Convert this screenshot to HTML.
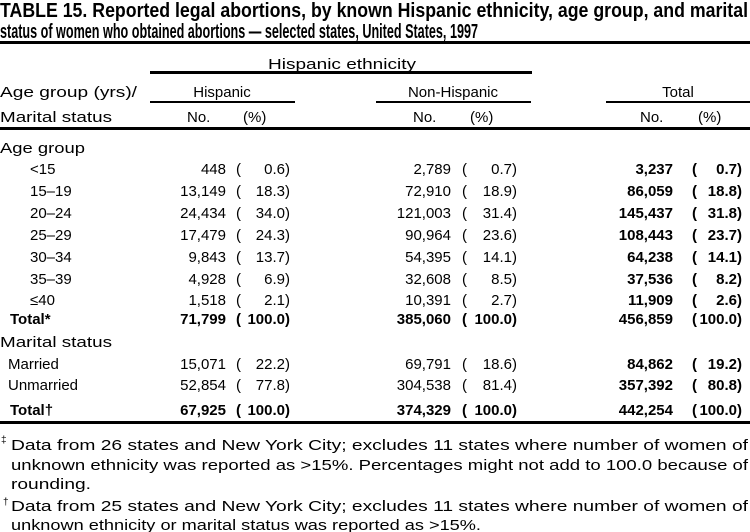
<!DOCTYPE html>
<html><head><meta charset="utf-8"><style>
html,body{margin:0;padding:0;background:#fff;}
svg{display:block;}
text{font-family:"Liberation Sans",sans-serif;fill:#000;}
.t{font-size:20px;font-weight:bold;}
.r{font-size:15px;}
.b{font-weight:bold;}
.e{text-anchor:end;}
.m{text-anchor:middle;}
</style></head><body>
<svg width="750" height="532" viewBox="0 0 750 532">
<text class="t" x="0" y="17" textLength="748" lengthAdjust="spacingAndGlyphs">TABLE 15. Reported legal abortions, by known Hispanic ethnicity, age group, and marital</text>
<text class="t" x="0" y="38" textLength="478" lengthAdjust="spacingAndGlyphs">status of women who obtained abortions — selected states, United States, 1997</text>
<rect x="0" y="41" width="750" height="3"/>
<text class="r m" x="342" y="69" textLength="148" lengthAdjust="spacingAndGlyphs">Hispanic  ethnicity</text>
<rect x="150" y="71" width="382" height="3"/>
<text class="r" x="0" y="97" textLength="137" lengthAdjust="spacingAndGlyphs">Age group (yrs)/</text>
<text class="r m" x="222" y="97">Hispanic</text>
<text class="r m" x="453" y="97">Non-Hispanic</text>
<text class="r m" x="678" y="97">Total</text>
<rect x="150" y="101" width="145" height="2"/>
<rect x="376" y="101" width="155" height="2"/>
<rect x="606" y="101" width="144" height="2"/>
<text class="r" x="0" y="122" textLength="112" lengthAdjust="spacingAndGlyphs">Marital status</text>
<text class="r" x="187" y="122">No.</text><text class="r" x="243" y="122">(%)</text>
<text class="r" x="413" y="122">No.</text><text class="r" x="470" y="122">(%)</text>
<text class="r" x="640" y="122">No.</text><text class="r" x="698" y="122">(%)</text>
<rect x="0" y="127" width="750" height="3"/>
<text class="r" x="0" y="153" textLength="85" lengthAdjust="spacingAndGlyphs">Age group</text>
<g id="rows"></g>
<text class="r" x="0" y="347" textLength="112" lengthAdjust="spacingAndGlyphs">Marital status</text>
<rect x="0" y="421" width="750" height="3"/>
<text style="font-size:10px" x="1" y="443">‡</text>
<text class="r" x="11" y="450" textLength="737" lengthAdjust="spacingAndGlyphs">Data from 26 states and New York City; excludes 11 states where number of women of</text>
<text class="r" x="11" y="470" textLength="737" lengthAdjust="spacingAndGlyphs">unknown ethnicity was reported as &gt;15%. Percentages might not add to 100.0 because of</text>
<text class="r" x="11" y="489" textLength="80" lengthAdjust="spacingAndGlyphs">rounding.</text>
<text style="font-size:10px" x="3" y="505">†</text>
<text class="r" x="11" y="511" textLength="737" lengthAdjust="spacingAndGlyphs">Data from 25 states and New York City; excludes 11 states where number of women of</text>
<text class="r" x="11" y="530" textLength="470" lengthAdjust="spacingAndGlyphs">unknown ethnicity or marital status was reported as &gt;15%.</text>
</svg>
<script>
var rows=[
["<15",174,"448","0.6","2,789","0.7","3,237","0.7",0],
["15–19",196,"13,149","18.3","72,910","18.9","86,059","18.8",0],
["20–24",218,"24,434","34.0","121,003","31.4","145,437","31.8",0],
["25–29",240,"17,479","24.3","90,964","23.6","108,443","23.7",0],
["30–34",262,"9,843","13.7","54,395","14.1","64,238","14.1",0],
["35–39",284,"4,928","6.9","32,608","8.5","37,536","8.2",0],
["≤40",305,"1,518","2.1","10,391","2.7","11,909","2.6",0],
["Total*",324,"71,799","100.0","385,060","100.0","456,859","100.0",1],
["Married",369,"15,071","22.2","69,791","18.6","84,862","19.2",0],
["Unmarried",390,"52,854","77.8","304,538","81.4","357,392","80.8",0],
["Total†",415,"67,925","100.0","374,329","100.0","442,254","100.0",1]];
var g=document.getElementById("rows"),s="";
var cols=[[226,236,290],[451,462,517],[673,692,742]];
rows.forEach(function(r){
 var y=r[1],lx=30;
 if(r[0]=="Married"||r[0]=="Unmarried")lx=8;
 if(r[0].indexOf("Total")==0)lx=10;
 var b=r[8]?" b":"";
 s+='<text class="r'+b+'" x="'+lx+'" y="'+y+'">'+r[0].replace("<","&lt;")+'</text>';
 for(var i=0;i<3;i++){
  var c=cols[i],bb=(r[8]||i==2)?" b":"";
  s+='<text class="r e'+bb+'" x="'+c[0]+'" y="'+y+'">'+r[2+i*2]+'</text>';
  s+='<text class="r'+bb+'" x="'+c[1]+'" y="'+y+'">(</text>';
  s+='<text class="r e'+bb+'" x="'+(c[2]-5)+'" y="'+y+'">'+r[3+i*2]+'</text>';
  s+='<text class="r'+bb+'" x="'+(c[2]-5)+'" y="'+y+'">)</text>';
 }
});
g.innerHTML=s;
</script>
</body></html>
